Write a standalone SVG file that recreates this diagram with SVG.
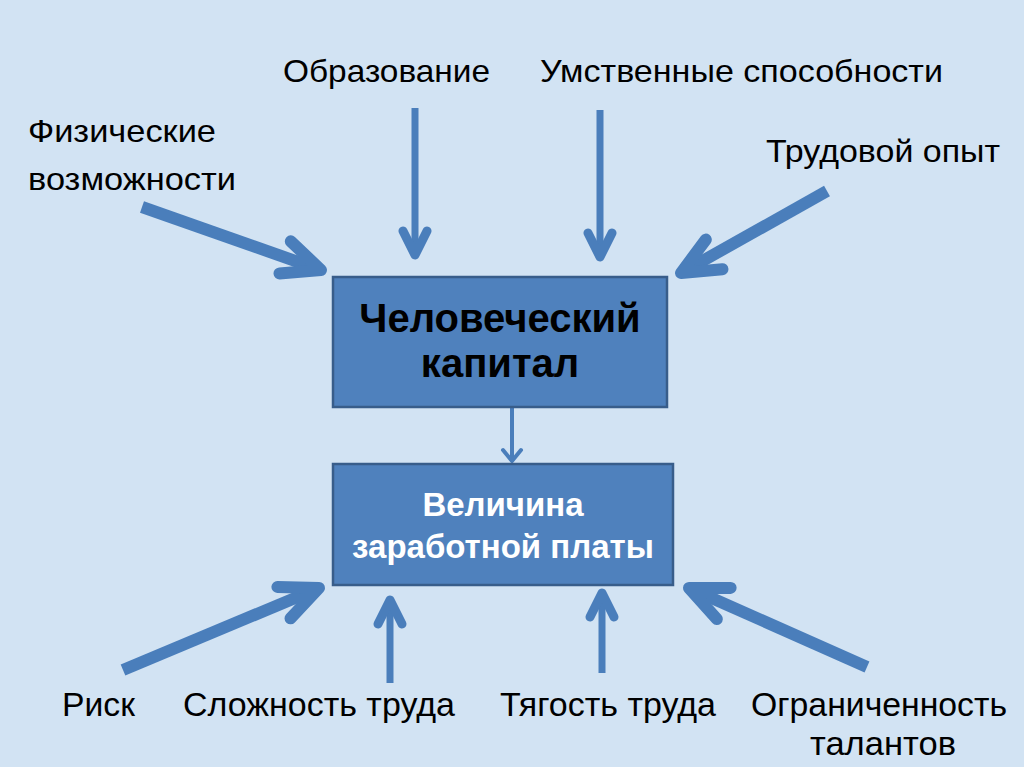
<svg xmlns="http://www.w3.org/2000/svg" width="1024" height="767" viewBox="0 0 1024 767">
<defs>
<style>
.lbl{font-family:"Liberation Sans",Arial,sans-serif;font-size:32px;fill:#000}
.lb2{font-family:"Liberation Sans",Arial,sans-serif;font-size:33px;fill:#000}
.t1{font-family:"Liberation Sans",Arial,sans-serif;font-size:40px;font-weight:bold;fill:#000;text-anchor:middle}
.t2{font-family:"Liberation Sans",Arial,sans-serif;font-size:33px;font-weight:bold;fill:#fff;text-anchor:middle}
.box{fill:#4f81bd;stroke:#385d8a;stroke-width:2.5}
.thick{stroke:#4a7ebb;stroke-width:12;fill:none;marker-end:url(#hBig)}
.mid{stroke:#4a7ebb;stroke-width:7;fill:none;marker-end:url(#hMid)}
.thin{stroke:#4a7ebb;stroke-width:4;fill:none;marker-end:url(#hSmall)}
</style>
<marker id="hBig" markerUnits="userSpaceOnUse" viewBox="-50 -30 60 60" markerWidth="60" markerHeight="60" refX="0" refY="0" orient="auto" overflow="visible">
<path d="M -38 -17 L 0 0 L -38 17" fill="none" stroke="#4a7ebb" stroke-width="12" stroke-linecap="round" stroke-linejoin="round"/>
</marker>
<marker id="hMid" markerUnits="userSpaceOnUse" viewBox="-40 -20 50 40" markerWidth="50" markerHeight="40" refX="0" refY="0" orient="auto" overflow="visible">
<path d="M -24 -12 L 0 0 L -24 12" fill="none" stroke="#4a7ebb" stroke-width="9" stroke-linecap="round" stroke-linejoin="round"/>
</marker>
<marker id="hSmall" markerUnits="userSpaceOnUse" viewBox="-20 -15 30 30" markerWidth="30" markerHeight="30" refX="0" refY="0" orient="auto" overflow="visible">
<path d="M -11 -9 L 0 0 L -11 9" fill="none" stroke="#4a7ebb" stroke-width="4" stroke-linecap="round" stroke-linejoin="round"/>
</marker>
</defs>
<rect x="0" y="0" width="1024" height="767" fill="#d2e3f3"/>

<g id="connectors">
<path class="thick" d="M 142 207 L 321 270"/>
<path class="mid" d="M 415 108 L 415 255"/>
<path class="mid" d="M 600 110 L 600 257"/>
<path class="thick" d="M 827 191 L 681 273"/>
<path class="thin" d="M 512 408 L 512 461"/>
<path class="thick" d="M 123 670 L 319 588"/>
<path class="mid" d="M 390 683 L 390 600"/>
<path class="mid" d="M 602 673 L 602 593"/>
<path class="thick" d="M 867 667 L 689 588"/>
</g>

<g id="node-human-capital">
<rect class="box" x="333" y="277" width="334" height="130"/>
<text class="t1" x="500" y="332">Человеческий</text>
<text class="t1" x="500" y="377">капитал</text>
</g>

<g id="node-wage">
<rect class="box" x="333" y="464" width="340" height="121"/>
<text class="t2" x="503" y="516">Величина</text>
<text class="t2" x="503" y="558">заработной платы</text>
</g>

<g id="node-education"><text class="lbl" x="283" y="82" textLength="207" lengthAdjust="spacingAndGlyphs">Образование</text></g>
<g id="node-mental"><text class="lbl" x="540" y="82" textLength="403" lengthAdjust="spacingAndGlyphs">Умственные способности</text></g>
<g id="node-physical">
<text class="lbl" x="28" y="142" textLength="188" lengthAdjust="spacingAndGlyphs">Физические</text>
<text class="lbl" x="28" y="190" textLength="208" lengthAdjust="spacingAndGlyphs">возможности</text>
</g>
<g id="node-experience"><text class="lbl" x="766" y="162" textLength="234" lengthAdjust="spacingAndGlyphs">Трудовой опыт</text></g>
<g id="node-risk"><text class="lb2" x="62" y="716" textLength="73" lengthAdjust="spacingAndGlyphs">Риск</text></g>
<g id="node-complexity"><text class="lb2" x="183" y="716" textLength="272" lengthAdjust="spacingAndGlyphs">Сложность труда</text></g>
<g id="node-hardness"><text class="lb2" x="500" y="716" textLength="216" lengthAdjust="spacingAndGlyphs">Тягость труда</text></g>
<g id="node-talent">
<text class="lb2" x="751" y="716" textLength="256" lengthAdjust="spacingAndGlyphs">Ограниченность</text>
<text class="lb2" x="810" y="755" textLength="146" lengthAdjust="spacingAndGlyphs">талантов</text>
</g>
</svg>
